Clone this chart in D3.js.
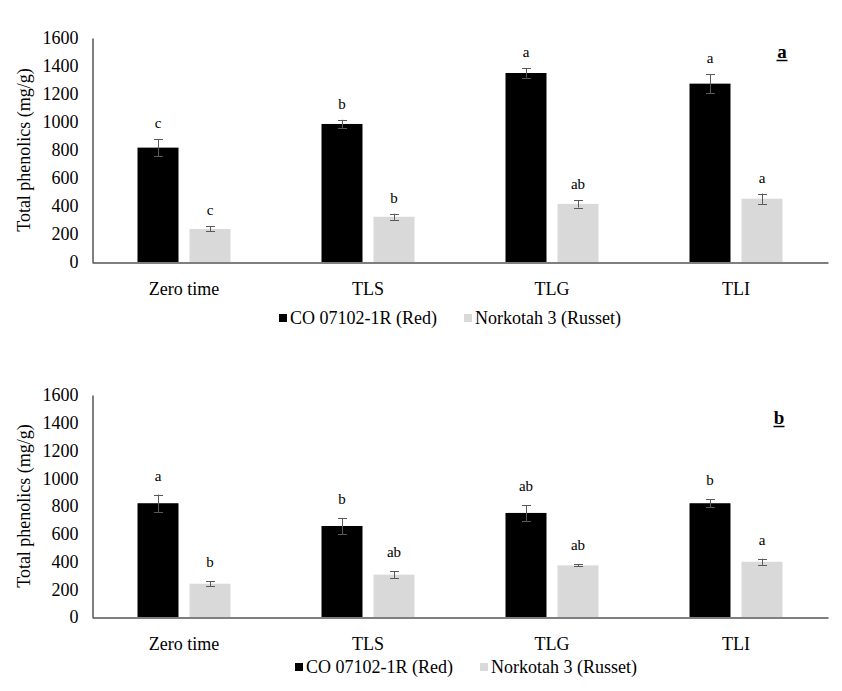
<!DOCTYPE html>
<html>
<head>
<meta charset="utf-8">
<script src="https://cdn.jsdelivr.net/npm/d3@7"></script>
<style>
  html, body { margin: 0; padding: 0; background: #fff; }
  svg text { font-family: "Liberation Serif", "Times New Roman", serif; }
</style>
</head>
<body>
<svg id="chart" width="842" height="691" font-family="Liberation Serif"></svg>
<script>
// ---- data ----
const categories = ["Zero time", "TLS", "TLG", "TLI"];
const seriesNames = ["CO 07102-1R (Red)", "Norkotah 3 (Russet)"];
const yTicks = [0, 200, 400, 600, 800, 1000, 1200, 1400, 1600];

// Panel a
const aRed = [817, 986, 1350, 1274];
const aRedErr = [62, 30, 33, 67];
const aRusset = [236, 323, 415, 452];
const aRussetErr = [18, 22, 26, 37];
const aRedLetters = ["c", "b", "a", "a"];
const aRussetLetters = ["c", "b", "ab", "a"];

// Panel b
const bRed = [820, 656, 750, 820];
const bRedErr = [62, 58, 57, 28];
const bRusset = [240, 305, 372, 398];
const bRussetErr = [18, 25, 8, 22];
const bRedLetters = ["a", "b", "ab", "b"];
const bRussetLetters = ["b", "ab", "ab", "a"];

const colors = ["#000000", "#d9d9d9"];
const FONT = "Liberation Serif";

const svg = d3.select("#chart");

function drawPanel(cfg) {
  const g = svg.append("g");
  const x = d3.scaleBand().domain(categories).range([92, 828]).paddingInner(0).paddingOuter(0);
  const xs = d3.scaleBand().domain([0, 1]).range([0, x.bandwidth()]).paddingInner(0.2115).paddingOuter(0.875);
  const y = d3.scaleLinear().domain([0, 1600]).range([cfg.bottom, cfg.top]);

  const rows = [];
  categories.forEach((c, i) => {
    rows.push({cat: c, s: 0, v: cfg.red[i], e: cfg.redErr[i], lab: cfg.redLetters[i]});
    rows.push({cat: c, s: 1, v: cfg.russet[i], e: cfg.russetErr[i], lab: cfg.russetLetters[i]});
  });

  // bars
  g.selectAll("rect.bar").data(rows).join("rect")
    .attr("class", "bar")
    .attr("x", d => x(d.cat) + xs(d.s))
    .attr("width", xs.bandwidth())
    .attr("y", d => y(d.v))
    .attr("height", d => y(0) - y(d.v))
    .attr("fill", d => colors[d.s]);

  // error bars
  const eb = g.selectAll("g.err").data(rows).join("g").attr("class", "err")
    .attr("stroke", "#595959").attr("stroke-width", 1).attr("fill", "none");
  const cx = d => Math.round(x(d.cat) + xs(d.s) + xs.bandwidth() / 2) + 0.5;
  eb.append("line").attr("x1", cx).attr("x2", cx)
    .attr("y1", d => y(d.v + d.e)).attr("y2", d => y(d.v - d.e));
  eb.append("line").attr("x1", d => cx(d) - 4.5).attr("x2", d => cx(d) + 4.5)
    .attr("y1", d => Math.round(y(d.v + d.e)) + 0.5).attr("y2", d => Math.round(y(d.v + d.e)) + 0.5);
  eb.append("line").attr("x1", d => cx(d) - 4.5).attr("x2", d => cx(d) + 4.5)
    .attr("y1", d => Math.round(y(d.v - d.e)) + 0.5).attr("y2", d => Math.round(y(d.v - d.e)) + 0.5);

  // letters
  g.selectAll("text.lab").data(rows).join("text")
    .attr("class", "lab")
    .attr("x", d => x(d.cat) + xs(d.s) + xs.bandwidth() / 2)
    .attr("y", d => y(d.v + d.e) - cfg.labOff + 5)
    .attr("text-anchor", "middle")
    .attr("font-family", FONT)
    .attr("font-size", 15)
    .attr("fill", "#000")
    .text(d => d.lab);

  // y axis
  const yAxis = d3.axisLeft(y).tickValues(yTicks).tickSize(0).tickPadding(14).tickFormat(d3.format("d"));
  const ya = g.append("g").attr("transform", "translate(92.5,0)").call(yAxis);
  ya.attr("font-family", FONT);
  ya.select(".domain").attr("stroke", "#000").attr("stroke-width", 1);
  ya.selectAll("text").attr("font-size", 18).attr("font-family", FONT).attr("fill", "#000");

  // x axis
  const xAxis = d3.axisBottom(x).tickSize(0).tickPadding(20);
  const xa = g.append("g").attr("transform", `translate(0,${y(0) + 0.5})`).call(xAxis);
  xa.attr("font-family", FONT);
  xa.select(".domain").attr("stroke", "#000").attr("stroke-width", 1.2);
  xa.selectAll("text").attr("font-size", 18).attr("font-family", FONT).attr("fill", "#000");

  // y title
  g.append("text")
    .attr("transform", `translate(30,${(cfg.top + cfg.bottom) / 2}) rotate(-90)`)
    .attr("text-anchor", "middle")
    .attr("font-family", FONT)
    .attr("font-size", 18)
    .attr("fill", "#000")
    .text("Total phenolics (mg/g)");

  // panel letter
  g.append("text")
    .attr("x", cfg.letterX).attr("y", cfg.letterY)
    .attr("text-anchor", "middle")
    .attr("font-family", FONT)
    .attr("font-size", 19).attr("font-weight", "bold")
    .attr("fill", "#000")
    .text(cfg.letter);
  g.append("line")
    .attr("x1", cfg.letterX - 5.5).attr("x2", cfg.letterX + 5.5)
    .attr("y1", cfg.letterY + 2.5).attr("y2", cfg.letterY + 2.5)
    .attr("stroke", "#000").attr("stroke-width", 1.5);

  // legend
  const lg = g.append("g").attr("transform", `translate(${cfg.legendX},${cfg.legendY})`);
  let offset = 0;
  seriesNames.forEach((name, i) => {
    const it = lg.append("g").attr("transform", `translate(${offset},0)`);
    it.append("rect").attr("x", 0).attr("y", -4).attr("width", 8).attr("height", 8).attr("fill", colors[i]);
    const t = it.append("text").attr("x", 11).attr("y", 6)
      .attr("font-family", FONT).attr("font-size", 18).attr("fill", "#000").text(name);
    offset += 11 + t.node().getComputedTextLength() + 27;
  });
}

drawPanel({
  top: 38, bottom: 262,
  red: aRed, redErr: aRedErr, russet: aRusset, russetErr: aRussetErr,
  redLetters: aRedLetters, russetLetters: aRussetLetters,
  labOff: 16, letter: "a", letterX: 782, letterY: 58,
  legendX: 279, legendY: 318
});

drawPanel({
  top: 395, bottom: 617,
  red: bRed, redErr: bRedErr, russet: bRusset, russetErr: bRussetErr,
  redLetters: bRedLetters, russetLetters: bRussetLetters,
  labOff: 19, letter: "b", letterX: 779, letterY: 424,
  legendX: 295, legendY: 667
});
</script>
</body>
</html>
